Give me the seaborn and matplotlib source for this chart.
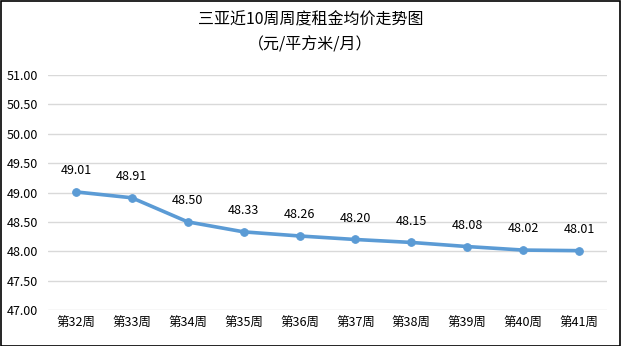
import matplotlib
matplotlib.use("Agg")
import matplotlib.pyplot as plt
import seaborn as sns
import pandas as pd
from matplotlib.patches import Rectangle

weeks = ["第32周", "第33周", "第34周", "第35周", "第36周",
         "第37周", "第38周", "第39周", "第40周", "第41周"]
prices = [49.01, 48.91, 48.50, 48.33, 48.26, 48.20, 48.15, 48.08, 48.02, 48.01]
yticks = [47.0, 47.5, 48.0, 48.5, 49.0, 49.5, 50.0, 50.5, 51.0]

sns.set_theme(style="white")
plt.rcParams["font.family"] = ["Noto Sans CJK SC", "DejaVu Sans"]

df = pd.DataFrame({"week": weeks, "price": prices})
df["pos"] = range(len(weeks))

fig = plt.figure(figsize=(6.21, 3.46), dpi=100)
ax = fig.add_axes([48 / 621, 1 - 310 / 346, 559 / 621, 235 / 346])

line_color = "#5B9BD5"
sns.lineplot(data=df, x="pos", y="price", ax=ax, color=line_color,
             linewidth=2.6, marker="o", markersize=5.5,
             markeredgecolor=line_color, markerfacecolor=line_color)

for x, y in zip(df["pos"], df["price"]):
    ax.annotate(f"{y:.2f}", (x, y), xytext=(0, 10.5), textcoords="offset points",
                ha="center", va="bottom", fontsize=9, color="#000000")

ax.set_xlim(-0.5, len(weeks) - 0.5)
ax.set_ylim(47, 51)
ax.set_xticks(range(len(weeks)))
ax.set_xticklabels(weeks, fontsize=9, color="#000000")
ax.set_yticks(yticks)
ax.set_yticklabels([f"{v:.2f}" for v in yticks], fontsize=9, color="#000000")
ax.tick_params(axis="x", length=0, pad=5)
ax.tick_params(axis="y", length=0, pad=7)
ax.set_xlabel("")
ax.set_ylabel("")
ax.yaxis.grid(True, color="#D9D9D9", linewidth=1)
ax.xaxis.grid(False)
for s in ax.spines.values():
    s.set_visible(False)

fig.text(0.5, 1 - 20 / 346, "三亚近10周周度租金均价走势图", ha="center", va="center",
         fontsize=11.5, color="#000000")
fig.text(0.5, 1 - 45 / 346, "（元/平方米/月）", ha="center", va="center",
         fontsize=11.5, color="#000000")

fig.patches.append(Rectangle((0.5 / 621, 0.5 / 346), 619.5 / 621, 344.5 / 346,
                             transform=fig.transFigure, fill=False,
                             edgecolor="#000000", linewidth=1.2))

fig.savefig("out.png", dpi=100, facecolor="white")
